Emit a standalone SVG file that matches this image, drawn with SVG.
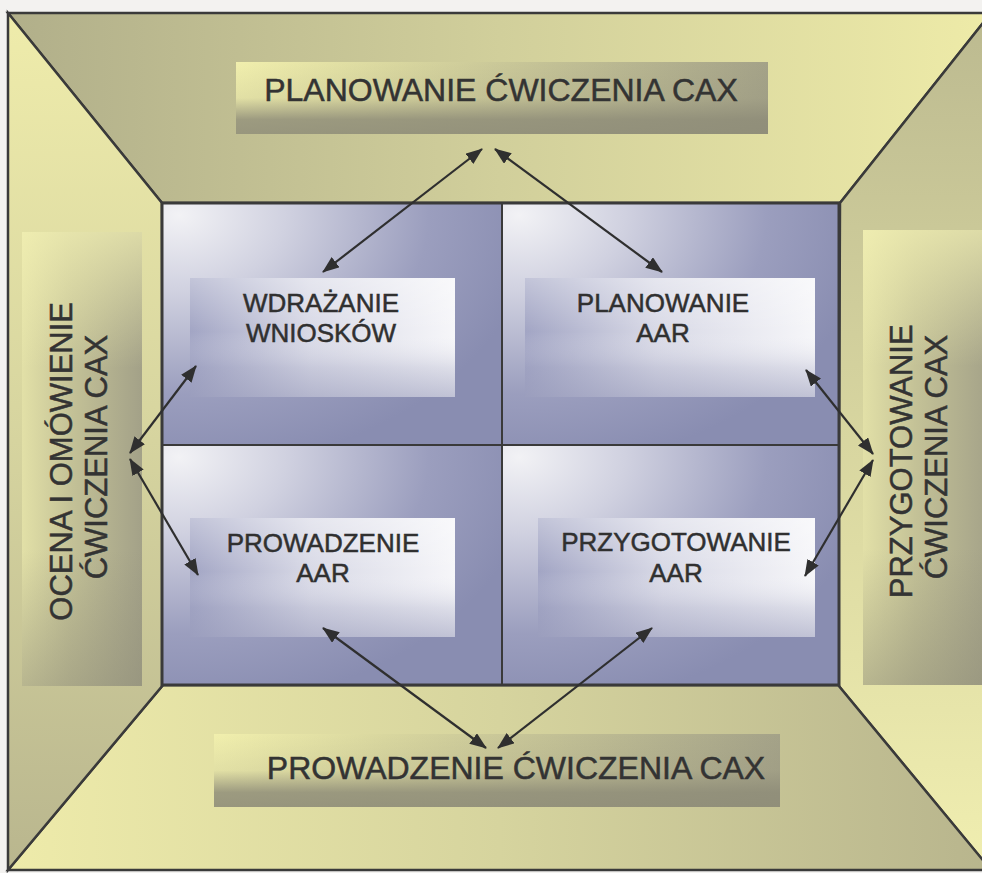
<svg xmlns="http://www.w3.org/2000/svg" width="982" height="873" viewBox="0 0 982 873">
  <defs>
    <!-- olive/yellow shading of the four frame walls -->
    <linearGradient id="wallTop" x1="8" y1="0" x2="991" y2="0" gradientUnits="userSpaceOnUse">
      <stop offset="0" stop-color="#b1af8a"/>
      <stop offset="0.5" stop-color="#d1cf9b"/>
      <stop offset="1" stop-color="#eeeba8"/>
    </linearGradient>
    <linearGradient id="wallRight" x1="0" y1="13" x2="0" y2="870" gradientUnits="userSpaceOnUse">
      <stop offset="0" stop-color="#bcba90"/>
      <stop offset="0.5" stop-color="#d8d6a0"/>
      <stop offset="1" stop-color="#f0eeb0"/>
    </linearGradient>
    <linearGradient id="wallBottom" x1="8" y1="0" x2="991" y2="0" gradientUnits="userSpaceOnUse">
      <stop offset="0" stop-color="#eeebaa"/>
      <stop offset="0.5" stop-color="#d6d49e"/>
      <stop offset="1" stop-color="#b8b58d"/>
    </linearGradient>
    <linearGradient id="wallLeft" x1="0" y1="13" x2="0" y2="870" gradientUnits="userSpaceOnUse">
      <stop offset="0" stop-color="#efecab"/>
      <stop offset="0.5" stop-color="#d6d49f"/>
      <stop offset="1" stop-color="#b9b68e"/>
    </linearGradient>

    <!-- stage label plates: light at the top-left, grey toward the right and bottom -->
    <linearGradient id="plateH" x1="0" y1="0" x2="1" y2="0">
      <stop offset="0" stop-color="#f1efad"/>
      <stop offset="0.3" stop-color="#d9d79f"/>
      <stop offset="1" stop-color="#a4a288"/>
    </linearGradient>
    <linearGradient id="plateShadeV" x1="0" y1="0" x2="0" y2="1">
      <stop offset="0" stop-color="#8e8c78" stop-opacity="0"/>
      <stop offset="0.5" stop-color="#8e8c78" stop-opacity="0.15"/>
      <stop offset="0.8" stop-color="#8e8c78" stop-opacity="0.85"/>
      <stop offset="1" stop-color="#8e8c78" stop-opacity="0.9"/>
    </linearGradient>
    <linearGradient id="plateV" x1="0" y1="0" x2="1" y2="0">
      <stop offset="0" stop-color="#e2e0a7"/>
      <stop offset="0.4" stop-color="#c4c297"/>
      <stop offset="1" stop-color="#a3a188"/>
    </linearGradient>
    <linearGradient id="plateShadeTop" x1="0" y1="0" x2="0" y2="1">
      <stop offset="0" stop-color="#f4f2b4" stop-opacity="0.7"/>
      <stop offset="0.3" stop-color="#f4f2b4" stop-opacity="0"/>
      <stop offset="0.7" stop-color="#8e8c78" stop-opacity="0"/>
      <stop offset="1" stop-color="#8e8c78" stop-opacity="0.5"/>
    </linearGradient>

    <!-- blue-grey quadrants of the central field -->
    <radialGradient id="quad" cx="0.05" cy="0.05" r="1.05">
      <stop offset="0" stop-color="#f2f2f5"/>
      <stop offset="0.3" stop-color="#d0d1e0"/>
      <stop offset="0.7" stop-color="#9b9ebe"/>
      <stop offset="1" stop-color="#898db1"/>
    </radialGradient>
    <!-- AAR boxes: bluish at left, white at right -->
    <linearGradient id="boxH" x1="0" y1="0" x2="1" y2="0">
      <stop offset="0" stop-color="#a2a5c4"/>
      <stop offset="0.45" stop-color="#d8d9e6"/>
      <stop offset="1" stop-color="#f6f6f9"/>
    </linearGradient>
    <linearGradient id="boxShade" x1="0" y1="0" x2="0" y2="1">
      <stop offset="0" stop-color="#ffffff" stop-opacity="0.35"/>
      <stop offset="0.45" stop-color="#ffffff" stop-opacity="0"/>
      <stop offset="0.75" stop-color="#9598b8" stop-opacity="0.25"/>
      <stop offset="1" stop-color="#9598b8" stop-opacity="0.55"/>
    </linearGradient>

    <marker id="head" viewBox="0 0 17 13" refX="16" refY="6.5" markerWidth="17" markerHeight="13" markerUnits="userSpaceOnUse" orient="auto-start-reverse">
      <path d="M0,0 L17,6.5 L0,13 Z" fill="#2f2f2f"/>
    </marker>
  </defs>

  <style>
    .wall { stroke: #3a3a3a; stroke-width: 2.5; stroke-linejoin: miter; }
    .edge { fill: none; stroke: #3a3a3a; stroke-width: 3; }
    .divider { stroke: #3a3a3a; stroke-width: 2; }
    .stage { font-family: "Liberation Sans", Arial, sans-serif; font-size: 32px; fill: #333333; stroke: #333333; stroke-width: 0.5; text-anchor: middle; }
    .side { font-family: "Liberation Sans", Arial, sans-serif; font-size: 31px; fill: #333333; stroke: #333333; stroke-width: 0.5; text-anchor: middle; }
    .aar { font-family: "Liberation Sans", Arial, sans-serif; font-size: 26px; fill: #303030; stroke: #303030; stroke-width: 0.5; text-anchor: middle; }
    .link { fill: none; stroke: #2f2f2f; stroke-width: 2.2; marker-start: url(#head); marker-end: url(#head); }
  </style>

  <rect x="0" y="0" width="982" height="873" fill="#f3f2f0"/>

  <!-- room-like frame: four walls around the central field -->
  <g id="frame">
    <polygon class="wall" points="8,13 991,13 840,203 162,203" fill="url(#wallTop)"/>
    <polygon class="wall" points="991,13 991,870 838,685 840,203" fill="url(#wallRight)"/>
    <polygon class="wall" points="8,870 163,685 838,685 991,870" fill="url(#wallBottom)"/>
    <polygon class="wall" points="8,13 162,203 163,685 8,870" fill="url(#wallLeft)"/>
  </g>

  <!-- central field split into four quadrants -->
  <g id="field">
    <rect x="162" y="203" width="340" height="242" fill="url(#quad)"/>
    <rect x="502" y="203" width="337" height="242" fill="url(#quad)"/>
    <rect x="162" y="445" width="340" height="240" fill="url(#quad)"/>
    <rect x="502" y="445" width="337" height="240" fill="url(#quad)"/>
    <line class="divider" x1="502" y1="203" x2="502" y2="685"/>
    <line class="divider" x1="162" y1="445" x2="839" y2="445"/>
    <rect class="edge" x="162" y="203" width="677" height="482"/>
  </g>

  <!-- exercise stages on the walls -->
  <g id="stage-planning">
    <rect x="236" y="62" width="532" height="72" fill="url(#plateH)"/>
    <rect x="236" y="62" width="532" height="72" fill="url(#plateShadeV)"/>
    <text class="stage" x="501" y="101">PLANOWANIE ĆWICZENIA CAX</text>
  </g>

  <g id="stage-preparation">
    <rect x="863" y="230" width="130" height="455" fill="url(#plateV)"/>
    <rect x="863" y="230" width="130" height="455" fill="url(#plateShadeTop)"/>
    <text class="side" transform="translate(912,457) rotate(-90)">
      <tspan x="0" y="0">PRZYGOTOWANIE</tspan>
      <tspan x="0" y="35">ĆWICZENIA CAX</tspan>
    </text>
  </g>

  <g id="stage-conduct">
    <rect x="214" y="734" width="566" height="73" fill="url(#plateH)"/>
    <rect x="214" y="734" width="566" height="73" fill="url(#plateShadeV)"/>
    <text class="stage" x="516" y="779">PROWADZENIE ĆWICZENIA CAX</text>
  </g>

  <g id="stage-review">
    <rect x="22" y="232" width="120" height="454" fill="url(#plateV)"/>
    <rect x="22" y="232" width="120" height="454" fill="url(#plateShadeTop)"/>
    <text class="side" transform="translate(72,457) rotate(-90)">
      <tspan x="0" y="0">OCENA I OMÓWIENIE</tspan>
      <tspan x="0" y="35">ĆWICZENIA CAX</tspan>
    </text>
  </g>

  <!-- AAR steps in the central field -->
  <g id="aar-lessons">
    <rect x="190" y="278" width="265" height="119" fill="url(#boxH)"/>
    <rect x="190" y="278" width="265" height="119" fill="url(#boxShade)"/>
    <text class="aar" x="321" y="312">WDRAŻANIE</text>
    <text class="aar" x="321" y="342">WNIOSKÓW</text>
  </g>

  <g id="aar-planning">
    <rect x="525" y="278" width="290" height="119" fill="url(#boxH)"/>
    <rect x="525" y="278" width="290" height="119" fill="url(#boxShade)"/>
    <text class="aar" x="663" y="312">PLANOWANIE</text>
    <text class="aar" x="663" y="342">AAR</text>
  </g>

  <g id="aar-conduct">
    <rect x="190" y="518" width="265" height="119" fill="url(#boxH)"/>
    <rect x="190" y="518" width="265" height="119" fill="url(#boxShade)"/>
    <text class="aar" x="323" y="552">PROWADZENIE</text>
    <text class="aar" x="323" y="582">AAR</text>
  </g>

  <g id="aar-preparation">
    <rect x="538" y="518" width="277" height="119" fill="url(#boxH)"/>
    <rect x="538" y="518" width="277" height="119" fill="url(#boxShade)"/>
    <text class="aar" x="676" y="551">PRZYGOTOWANIE</text>
    <text class="aar" x="676" y="582">AAR</text>
  </g>

  <!-- two-way links between stages and AAR steps -->
  <g id="connectors">
    <line class="link" x1="482" y1="149" x2="323" y2="272"/>
    <line class="link" x1="495" y1="149" x2="662" y2="272"/>
    <line class="link" x1="196" y1="366" x2="130" y2="453"/>
    <line class="link" x1="130" y1="459" x2="198" y2="575"/>
    <line class="link" x1="806" y1="370" x2="873" y2="454"/>
    <line class="link" x1="873" y1="460" x2="805" y2="576"/>
    <line class="link" x1="323" y1="628" x2="486" y2="748"/>
    <line class="link" x1="652" y1="628" x2="498" y2="748"/>
  </g>
</svg>
